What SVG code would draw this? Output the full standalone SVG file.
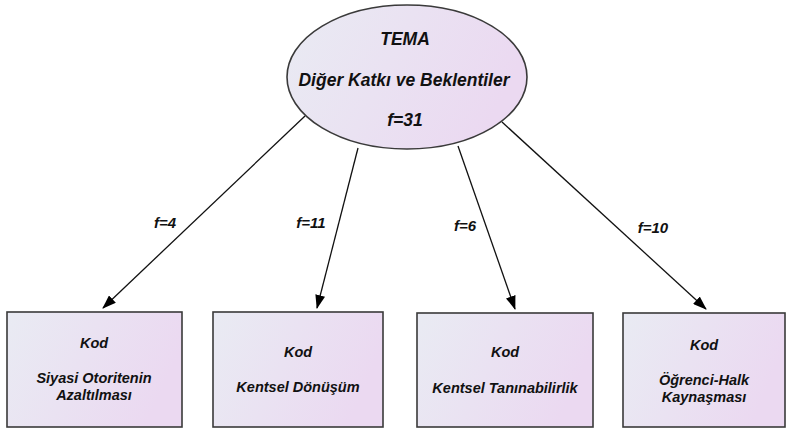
<svg xmlns="http://www.w3.org/2000/svg" width="790" height="429" viewBox="0 0 790 429">
<defs>
<linearGradient id="g" x1="0" y1="0" x2="1" y2="0.3">
<stop offset="0" stop-color="#e9ebf3"/>
<stop offset="1" stop-color="#ebd9f1"/>
</linearGradient>
<marker id="ah" markerWidth="14" markerHeight="10" refX="13" refY="5" orient="auto" markerUnits="userSpaceOnUse">
<path d="M0,0 L14,5 L0,10 Z" fill="#000"/>
</marker>
<style>
.n{fill:url(#g);stroke:#3a3a3a;stroke-width:1.6}
.t{font-family:"Liberation Sans",Arial,sans-serif;font-weight:bold;font-style:italic;fill:#111;text-anchor:middle}
.big{font-size:17.5px}
.sm{font-size:14.5px}
.lb{font-size:15px}
.c{stroke:#111;stroke-width:1.3;fill:none;marker-end:url(#ah)}
</style>
</defs>
<rect width="790" height="429" fill="#fff"/>
<g id="connectors">
<line class="c" x1="305" y1="116" x2="103" y2="308"/>
<line class="c" x1="358" y1="148" x2="317" y2="308"/>
<line class="c" x1="458" y1="146" x2="515" y2="309"/>
<line class="c" x1="502" y1="122" x2="706" y2="309"/>
<text class="t lb" x="165" y="228">f=4</text>
<text class="t lb" x="311" y="228">f=11</text>
<text class="t lb" x="465" y="231">f=6</text>
<text class="t lb" x="653" y="233">f=10</text>
</g>
<g id="tema">
<ellipse class="n" cx="407" cy="77" rx="120" ry="72"/>
<text class="t big" x="405" y="45">TEMA</text>
<text class="t big" x="404" y="86">Diğer Katkı ve Beklentiler</text>
<text class="t big" x="405" y="126">f=31</text>
</g>
<g id="kod1">
<rect class="n" x="7" y="312" width="175" height="115"/>
<text class="t sm" x="94" y="348">Kod</text>
<text class="t sm" x="94" y="383">Siyasi Otoritenin</text>
<text class="t sm" x="94" y="400">Azaltılması</text>
</g>
<g id="kod2">
<rect class="n" x="213" y="312" width="170" height="115"/>
<text class="t sm" x="298" y="357">Kod</text>
<text class="t sm" x="298" y="392">Kentsel Dönüşüm</text>
</g>
<g id="kod3">
<rect class="n" x="417" y="313" width="176" height="114"/>
<text class="t sm" x="505" y="357">Kod</text>
<text class="t sm" x="505" y="393">Kentsel Tanınabilirlik</text>
</g>
<g id="kod4">
<rect class="n" x="623" y="313" width="162" height="114"/>
<text class="t sm" x="704" y="350">Kod</text>
<text class="t sm" x="704" y="385">Öğrenci-Halk</text>
<text class="t sm" x="704" y="402">Kaynaşması</text>
</g>
</svg>
